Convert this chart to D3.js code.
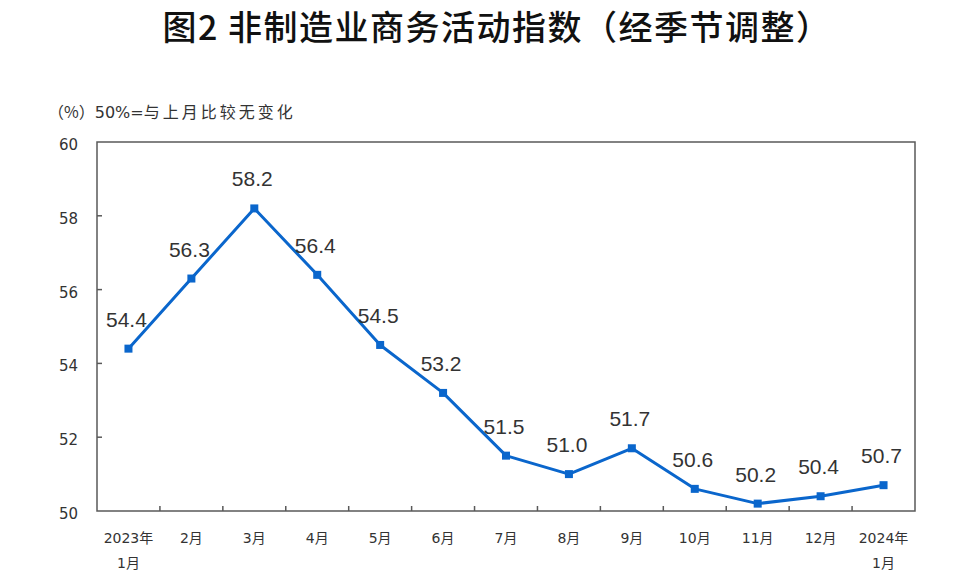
<!DOCTYPE html>
<html>
<head>
<meta charset="utf-8">
<script src="https://cdn.jsdelivr.net/npm/d3@7"></script>
<style>
  body { margin: 0; background: #fff; }
  svg { display: block; }
</style>
</head>
<body>
<div id="graph"></div>
<script>
const months = ["2023年\n1月", "2月", "3月", "4月", "5月", "6月", "7月", "8月", "9月", "10月", "11月", "12月", "2024年\n1月"]
const values = [54.4, 56.3, 58.2, 56.4, 54.5, 53.2, 51.5, 51.0, 51.7, 50.6, 50.2, 50.4, 50.7]
const yTicks = [50, 52, 54, 56, 58, 60]

const width = 979
const height = 578
const marginTop = 142
const marginRight = 64
const marginBottom = 67
const marginLeft = 97

const data = months.map((m, i) => ({ month: m, value: values[i] }))

const xScale = d3.scaleBand()
                 .domain(months)
                 .range([marginLeft, width - marginRight])

const yScale = d3.scaleLinear()
                 .domain([50, 60])
                 .range([height - marginBottom, marginTop])

const svg = d3.create("svg")
              .attr("width", width)
              .attr("height", height)
              .attr("viewBox", `0 0 ${width} ${height}`)

// title
svg.append("text")
   .attr("x", 497)
   .attr("y", 40)
   .attr("text-anchor", "middle")
   .attr("font-family", "'Noto Sans CJK SC', sans-serif")
   .attr("font-weight", 500)
   .attr("font-size", 34)
   .attr("letter-spacing", 1.5)
   .attr("fill", "#111")
   .text("图2 非制造业商务活动指数（经季节调整）")

// unit note
const note = svg.append("text")
   .attr("x", 48)
   .attr("y", 118)
   .attr("font-family", "'DejaVu Sans', 'Noto Sans CJK SC', sans-serif")
   .attr("font-size", 16)
   .attr("fill", "#333")
note.append("tspan").attr("font-family", "'Noto Sans CJK SC', sans-serif").text("（%）")
note.append("tspan").text("50%=")
note.append("tspan").attr("letter-spacing", 3).text("与上月比较无变化")

// frame
const x0 = marginLeft, x1 = width - marginRight
const y0 = marginTop, y1 = height - marginBottom
svg.append("rect")
   .attr("x", x0)
   .attr("y", y0)
   .attr("width", x1 - x0)
   .attr("height", y1 - y0)
   .attr("fill", "none")
   .attr("stroke", "#595959")
   .attr("stroke-width", 1.5)

// y ticks + labels
svg.append("g")
   .selectAll("line")
   .data(yTicks.slice(1, -1))
   .join("line")
   .attr("x1", x0)
   .attr("x2", x0 + 5)
   .attr("y1", d => yScale(d))
   .attr("y2", d => yScale(d))
   .attr("stroke", "#595959")
   .attr("stroke-width", 1.5)

svg.append("g")
   .selectAll("text")
   .data(yTicks)
   .join("text")
   .attr("x", 78)
   .attr("y", d => yScale(d) + 8)
   .attr("text-anchor", "end")
   .attr("font-family", "'DejaVu Sans', sans-serif")
   .attr("font-size", 15)
   .attr("fill", "#333")
   .text(d => d)

// x ticks at band edges
svg.append("g")
   .selectAll("line")
   .data(months.slice(1))
   .join("line")
   .attr("x1", d => xScale(d))
   .attr("x2", d => xScale(d))
   .attr("y1", y1)
   .attr("y2", y1 - 5)
   .attr("stroke", "#595959")
   .attr("stroke-width", 1.5)

// x labels
const xLabels = svg.append("g")
   .selectAll("text")
   .data(months)
   .join("text")
   .attr("text-anchor", "middle")
   .attr("font-family", "'DejaVu Sans', 'Noto Sans CJK SC', sans-serif")
   .attr("font-size", 14)
   .attr("fill", "#333")

xLabels.selectAll("tspan")
   .data(d => d.split("\n").map(t => ({ t, x: xScale(d) + xScale.bandwidth() / 2 })))
   .join("tspan")
   .attr("x", d => d.x)
   .attr("y", (d, i) => 543 + i * 25)
   .text(d => d.t)

// line
const cx = d => xScale(d.month) + xScale.bandwidth() / 2
const line = d3.line()
               .x(cx)
               .y(d => yScale(d.value))

svg.append("path")
   .datum(data)
   .attr("d", line)
   .attr("fill", "none")
   .attr("stroke", "#0a66cc")
   .attr("stroke-width", 3)
   .attr("stroke-linejoin", "round")

// markers
const sq = 8
svg.append("g")
   .selectAll("rect")
   .data(data)
   .join("rect")
   .attr("x", d => cx(d) - sq / 2)
   .attr("y", d => yScale(d.value) - sq / 2)
   .attr("width", sq)
   .attr("height", sq)
   .attr("fill", "#0a66cc")

// value labels
svg.append("g")
   .selectAll("text")
   .data(data)
   .join("text")
   .attr("x", d => cx(d) - 2)
   .attr("y", d => yScale(d.value) - 22)
   .attr("text-anchor", "middle")
   .attr("font-family", "'Liberation Sans', Arial, sans-serif")
   .attr("font-size", 21)
   .attr("fill", "#333")
   .text(d => d.value.toFixed(1))

graph.append(svg.node())
</script>
</body>
</html>
